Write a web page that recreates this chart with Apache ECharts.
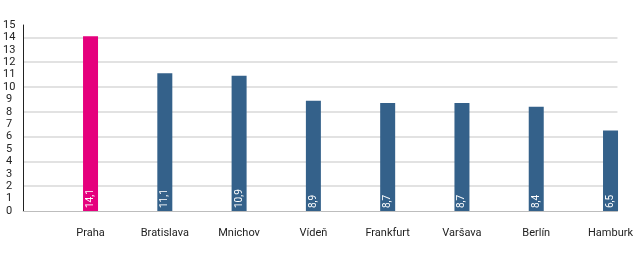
<!DOCTYPE html>
<html><head><meta charset="utf-8">
<script src="https://cdn.jsdelivr.net/npm/echarts@6/dist/echarts.min.js"></script>
<style>html,body{margin:0;padding:0;background:#fff}#c{width:636px;height:258px}</style>
</head><body><div id="c"></div>
<script>
const categories = ['Praha','Bratislava','Mnichov','Vídeň','Frankfurt','Varšava','Berlín','Hamburk'];
const values = [14.1, 11.1, 10.9, 8.9, 8.7, 8.7, 8.4, 6.5];
const yTickLabels = [0,1,2,3,4,5,6,7,8,9,10,11,12,13,14,15];
const highlightIndex = 0;
const yMin = 0, yMax = 15;
const xOffset = 68 / 75; // empty space before first category, in category units

const chart = echarts.init(document.getElementById('c'));
const font = 'Roboto, "Noto Sans", sans-serif';
chart.setOption({
  animation: false,
  grid: {left: 20, top: 25, width: 600, bottom: 47},
  xAxis: {type: 'value', min: -xOffset, max: categories.length - xOffset,
    axisLine: {show: true, onZero: false, lineStyle: {color: '#bdbdbd', width: 1}},
    axisTick: {show: false}, splitLine: {show: false},
    axisLabel: {customValues: categories.map((c, i) => i), formatter: v => categories[Math.round(v)],
      color: '#222', fontSize: 11, fontFamily: font, margin: 17}},
  yAxis: {type: 'value', min: yMin, max: yMax, interval: 2,
    axisLine: {show: true, onZero: false, lineStyle: {color: '#222', width: 1}}, axisTick: {show: false},
    axisLabel: {customValues: yTickLabels, color: '#222', fontSize: 11, fontFamily: font, margin: 14, align: 'center'},
    splitLine: {show: true, showMinLine: false, showMaxLine: false, lineStyle: {color: '#d9d9d9', width: 1.5}}},
  series: [{
    type: 'bar', barWidth: 15,
    data: values.map((v, i) => ({value: [i, v], itemStyle: {color: i === highlightIndex ? '#e5007d' : '#34618a'}})),
    label: {show: true, position: 'insideBottom', rotate: 90, align: 'left', verticalAlign: 'middle', distance: 3,
      color: '#fff', fontSize: 10, fontFamily: font,
      formatter: p => String(p.value[1]).replace('.', ',')}
  }]
});
</script></body></html>
